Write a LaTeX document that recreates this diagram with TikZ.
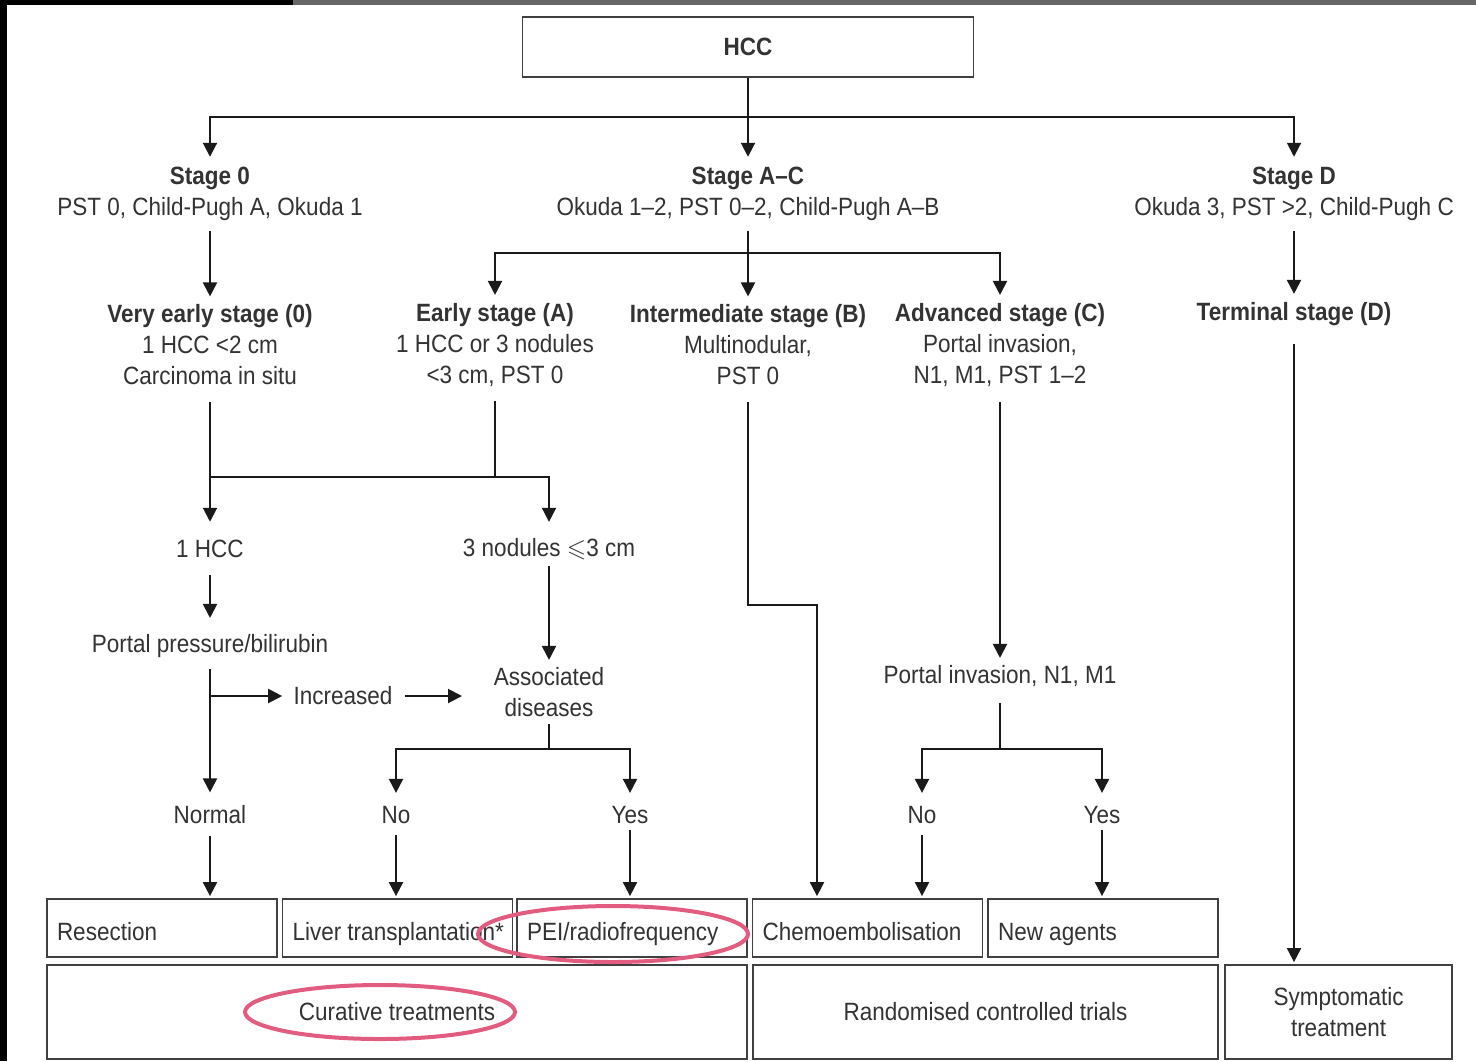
\documentclass[tikz,border=0pt]{standalone}
\usepackage{amssymb}
\usepackage{fontspec}
\setmainfont{Liberation Sans}[FakeStretch=0.9]
\usetikzlibrary{positioning}
\usetikzlibrary{calc}
\usetikzlibrary{arrows.meta}

\definecolor{inkgrey}{HTML}{333333}
\definecolor{linegrey}{HTML}{1A1A1A}
\definecolor{boxgrey}{HTML}{404040}
\definecolor{markpink}{RGB}{226,92,128}

\newcommand{\lefttext}[1]{\makebox[105pt][l]{#1}}

\begin{document}
\begin{tikzpicture}[x=0.5pt, y=-0.5pt,
    txt/.style={inner sep=0pt, text=inkgrey, align=center, font=\fontsize{12.5}{15.5}\selectfont},
    tbox/.style={draw=boxgrey, line width=0.9pt, inner xsep=5pt, inner ysep=0pt, minimum height=29pt, text=inkgrey, font=\fontsize{12.5}{15.5}\selectfont},
    treat/.style={tbox, minimum width=115pt, text height=12pt, text depth=0pt},
    ln/.style={draw=linegrey, line width=1pt},
    arr/.style={ln, -{Triangle[width=7pt,length=7pt]}},
    ring/.style={draw=markpink, line width=2pt}]

    % screenshot frame
    \fill[white] (0,0) rectangle (1476,1061);
    \fill[black] (0,0) rectangle (7,1061);
    \fill[black] (0,0) rectangle (293,5);
    \fill[black!60] (293,0) rectangle (1476,5);
    \useasboundingbox (0,0) rectangle (1476,1061);

    \node[tbox, minimum width=225.5pt, minimum height=30pt, font=\fontsize{12.5}{15.5}\selectfont\bfseries] (hcc) at (748,47) {HCC};

    \node[txt] (stage0) at (210,194) {\textbf{Stage 0}\\PST 0, Child-Pugh A, Okuda 1};
    \node[txt] (stageac) at (748,194) {\textbf{Stage A–C}\\Okuda 1–2, PST 0–2, Child-Pugh A–B};
    \node[txt] (staged) at (1294,194) {\textbf{Stage D}\\Okuda 3, PST >2, Child-Pugh C};

    \coordinate (j0) at (748,117);
    \draw[ln] (hcc) -- (j0);
    \draw[arr, shorten >=5pt] (j0) -| (stage0.north);
    \draw[arr, shorten >=5pt] (j0) -- (stageac.north);
    \draw[arr, shorten >=5pt] (j0) -| (staged.north);

    \node[txt] (veryearly) at (210,345) {\textbf{Very early stage (0)}\\1 HCC <2 cm\\Carcinoma in situ};
    \node[txt] (early) at (495,345) {\textbf{Early stage (A)}\\1 HCC or 3 nodules\\<3 cm, PST 0};
    \node[txt] (inter) at (748,345) {\textbf{Intermediate stage (B)}\\Multinodular,\\PST 0};
    \node[txt] (adv) at (1000,345) {\textbf{Advanced stage (C)}\\Portal invasion,\\N1, M1, PST 1–2};
    \node[txt] (term) at (1294,314) {\textbf{Terminal stage (D)}};

    \coordinate (j1) at (748,253);
    \draw[arr, shorten <=5pt, shorten >=4pt] (stage0) -- (veryearly);
    \draw[ln, shorten <=5pt] (stageac) -- (j1);
    \draw[arr, shorten >=4pt] (j1) -| (early.north);
    \draw[arr, shorten >=4pt] (j1) -- (inter.north);
    \draw[arr, shorten >=4pt] (j1) -| (adv.north);
    \draw[arr, shorten <=5pt, shorten >=4pt] (staged) -- (term);

    % very early / early
    \node[txt] (hcc1) at (210,549) {1 HCC};
    \node[txt] (nod3) at (549,549) {3 nodules $\leqslant$3 cm};
    \coordinate (j2) at (210,477);
    \draw[arr, shorten <=8pt, shorten >=9pt] (veryearly) -- (hcc1);
    \draw[ln, shorten <=7pt] (early.south) -- (early.south |- j2);
    \draw[arr, shorten >=8pt] (j2) -| (nod3.north);

    \node[txt] (portal) at (210,646) {Portal pressure/bilirubin};
    \node[txt] (assoc) at (549,692) {Associated\\diseases};
    \draw[arr, shorten <=8.5pt, shorten >=8pt] (hcc1) -- (portal);
    \draw[arr, shorten <=3pt, shorten >=3.5pt] (nod3) -- (assoc);

    \node[txt] (normal) at (210,815) {Normal};
    \node[txt] (incr) at (343,696) {Increased};
    \coordinate (j4) at (210,696);
    \coordinate (incend) at (462,696);
    \draw[arr, shorten <=5.5pt, shorten >=6.5pt] (portal) -- (normal);
    \draw[arr, shorten >=5.5pt] (j4) -- (incr);
    \draw[arr, shorten <=6pt] (incr) -- (incend);

    \node[txt] (no1) at (396,815) {No};
    \node[txt] (yes1) at (630,815) {Yes};
    \coordinate (j5) at (549,749);
    \draw[ln, shorten <=3.5pt] (assoc) -- (j5);
    \draw[arr, shorten >=6.5pt] (j5) -| (no1.north);
    \draw[arr, shorten >=6.5pt] (j5) -| (yes1.north);

    % advanced
    \node[txt] (pinv) at (1000,676) {Portal invasion, N1, M1};
    \coordinate (j7) at (1000,749);
    \draw[arr, shorten <=7.5pt, shorten >=3.5pt] (adv) -- (pinv);
    \draw[ln, shorten <=8pt] (pinv) -- (j7);
    \node[txt] (no2) at (922,815) {No};
    \node[txt] (yes2) at (1102,815) {Yes};
    \draw[arr, shorten >=6.5pt] (j7) -| (no2.north);
    \draw[arr, shorten >=6.5pt] (j7) -| (yes2.north);

    % treatments
    \node[treat] (resect) at (162,928) {\lefttext{Resection}};
    \node[treat] (liver) at (397.5,928) {\lefttext{Liver transplantation*}};
    \node[treat] (pei) at (632,928) {\lefttext{PEI/radiofrequency}};
    \node[treat] (chemo) at (867.5,928) {\lefttext{Chemoembolisation}};
    \node[treat] (newag) at (1103,928) {\lefttext{New agents}};

    \node[tbox, minimum width=350pt, minimum height=47pt] (cure) at (397,1012) {Curative treatments};
    \node[tbox, minimum width=232.5pt, minimum height=47pt] (rct) at (985.5,1012) {Randomised controlled trials};
    \node[tbox, minimum width=113.5pt, minimum height=47pt, align=center] (symp) at (1338.5,1012) {Symptomatic\\treatment};

    \coordinate (j6) at (817,605);
    \draw[arr, shorten <=5.5pt, shorten >=1pt] (normal.south) -- (normal.south |- resect.north);
    \draw[arr, shorten <=5.5pt, shorten >=1pt] (no1.south) -- (no1.south |- liver.north);
    \draw[arr, shorten <=3pt, shorten >=1pt] (yes1.south) -- (yes1.south |- pei.north);
    \draw[arr, shorten <=8pt, shorten >=1pt] (inter.south) |- (j6) -- (j6 |- chemo.north);
    \draw[arr, shorten <=5.5pt, shorten >=1pt] (no2.south) -- (no2.south |- chemo.north);
    \draw[arr, shorten <=3pt, shorten >=1pt] (yes2.south) -- (yes2.south |- newag.north);
    \draw[arr, shorten <=9pt, shorten >=1pt] (term.south) -- (term.south |- symp.north);

    % highlight rings
    \draw[ring] (613,934) ellipse [x radius=67.5pt, y radius=14pt];
    \draw[ring] (380,1012) ellipse [x radius=67.5pt, y radius=13.5pt];
\end{tikzpicture}
\end{document}
